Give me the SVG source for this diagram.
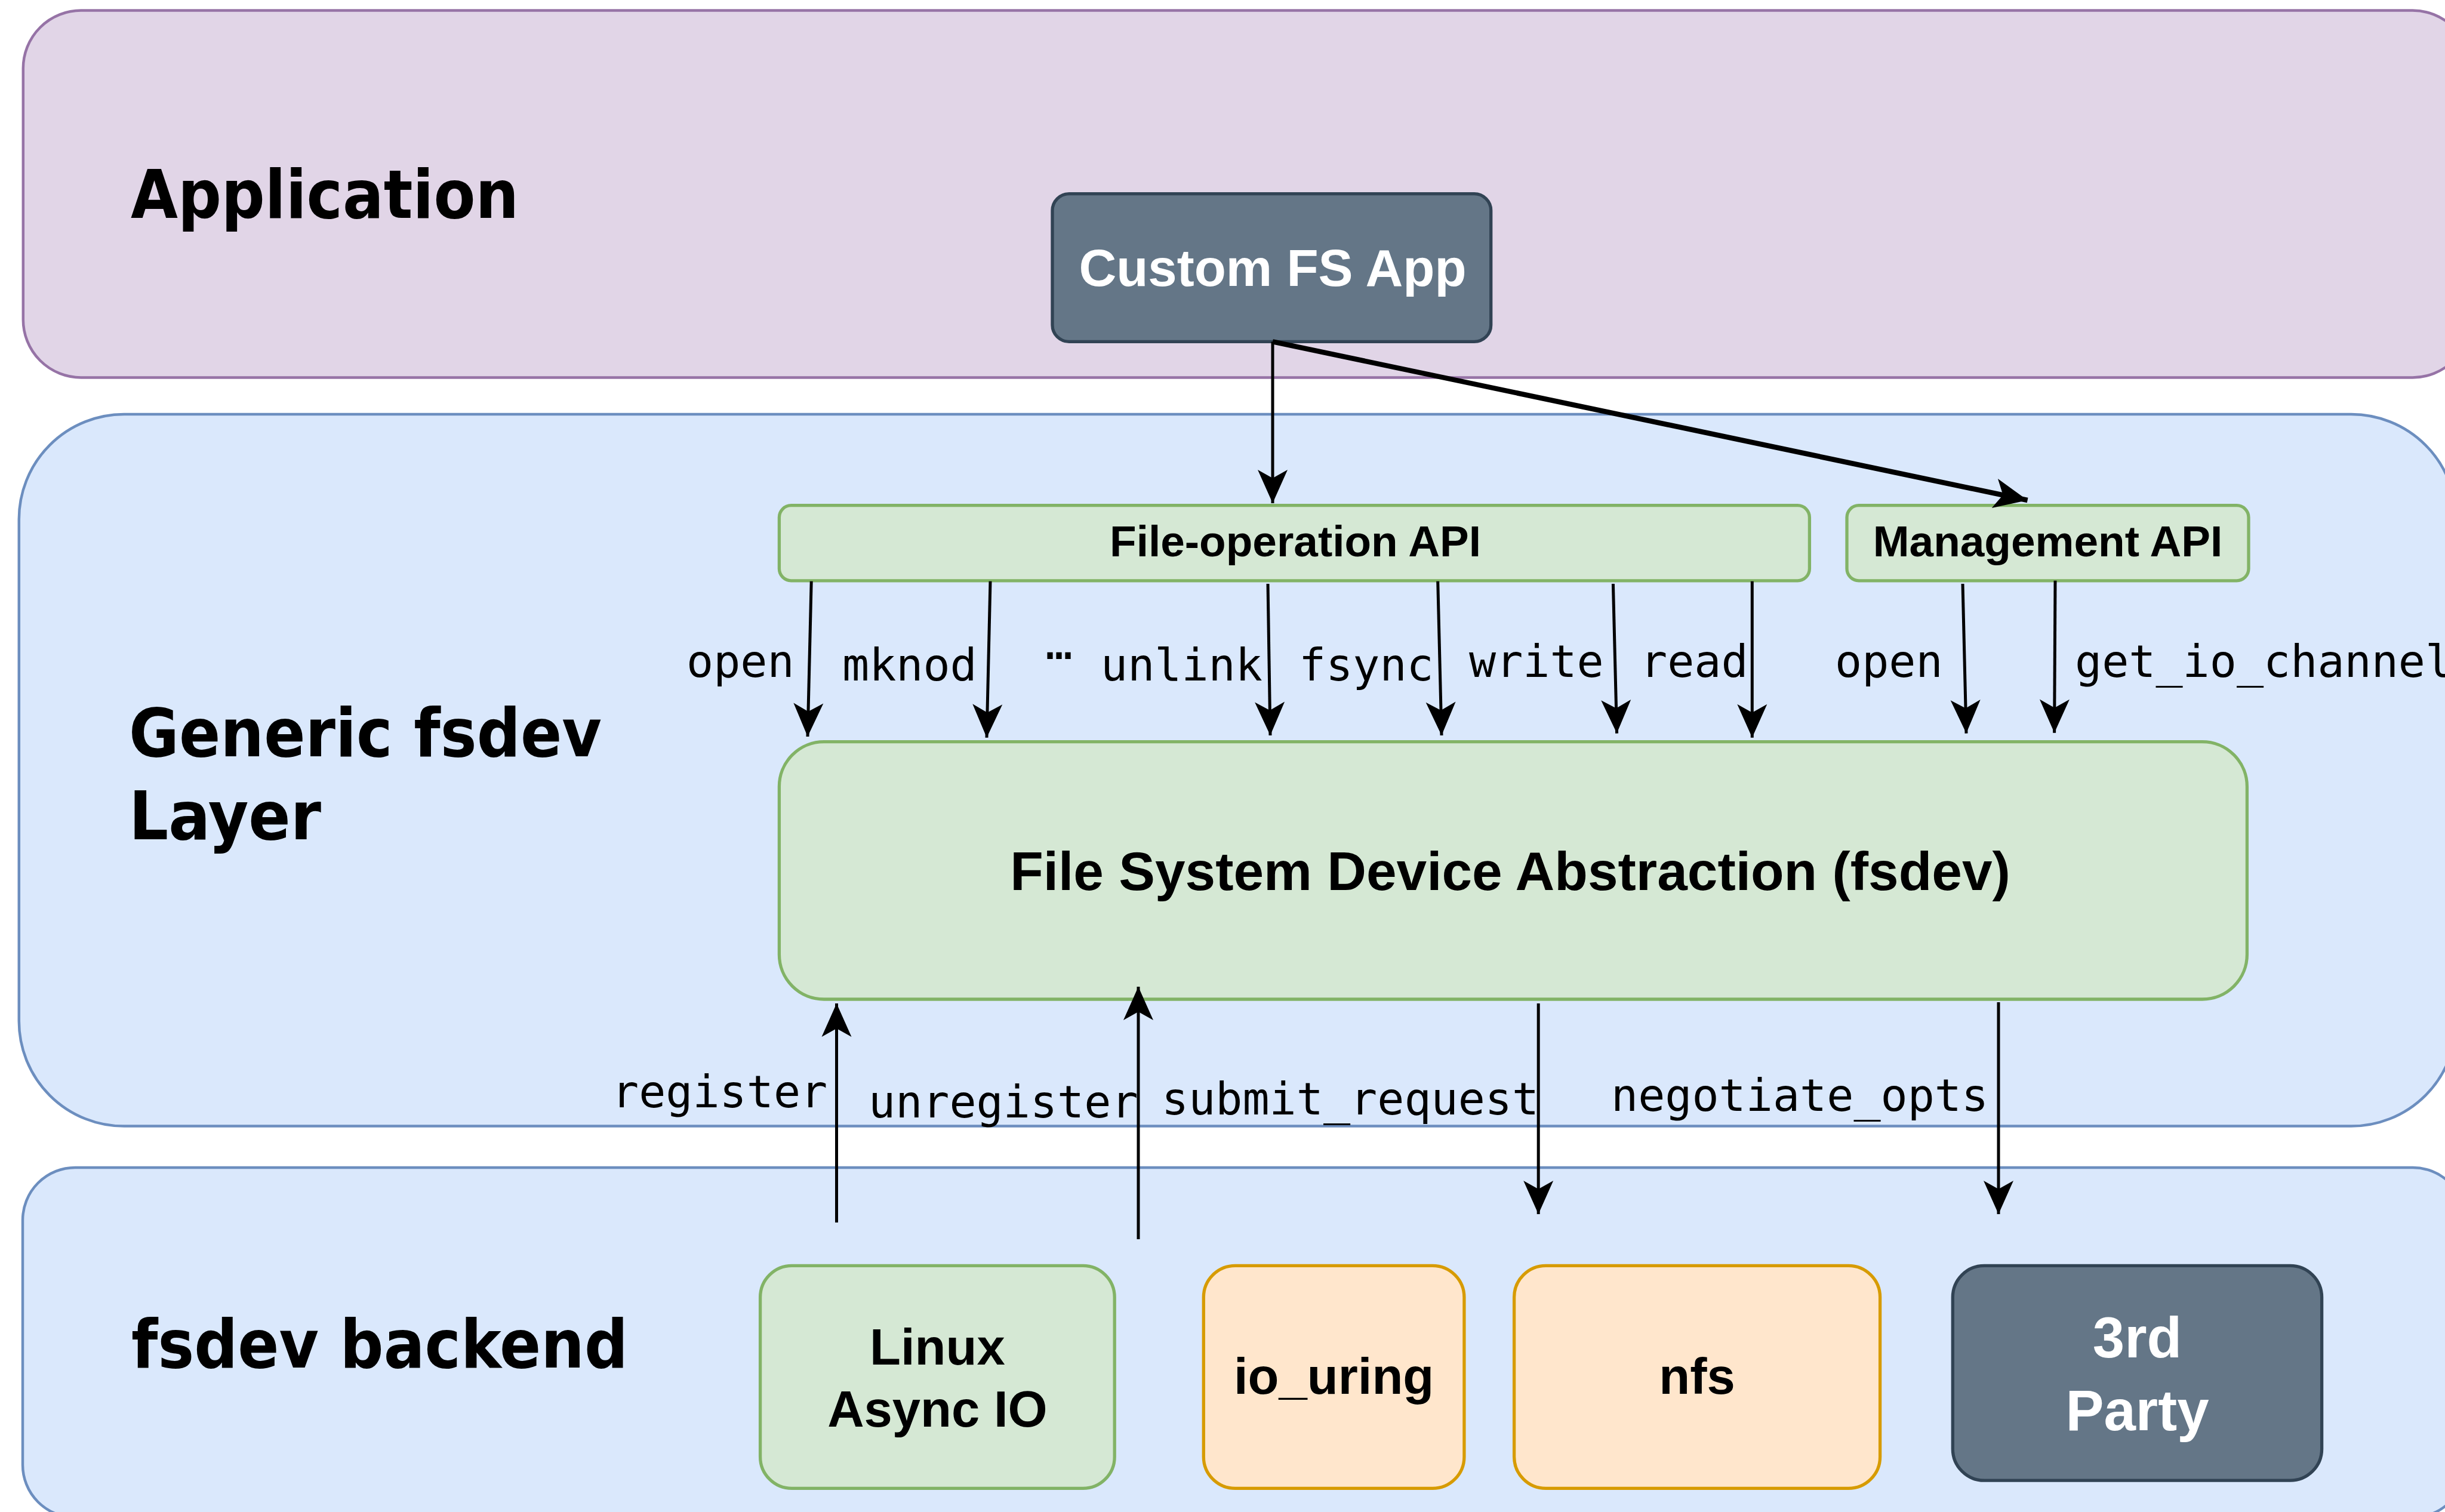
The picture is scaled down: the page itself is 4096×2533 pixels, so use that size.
<svg xmlns="http://www.w3.org/2000/svg" width="4096" height="2533" viewBox="0 0 4096 2533">
  <defs>
    <style>
      .lane-app { fill: #e1d5e7; stroke: #9673a6; stroke-width: 4.5; }
      .lane-blue { fill: #dae8fc; stroke: #6c8ebf; stroke-width: 4.5; }
      .green { fill: #d5e8d4; stroke: #82b366; stroke-width: 5.3; }
      .orange { fill: #ffe6cc; stroke: #d79b00; stroke-width: 5.3; }
      .dark { fill: #647687; stroke: #314354; stroke-width: 5.3; }
      .lane-title { font-family: "DejaVu Sans Condensed", "DejaVu Sans", sans-serif; font-stretch: condensed; font-weight: bold; font-size: 113px; fill: #000; }
      .node-text { font-family: "Liberation Sans", Arial, sans-serif; font-weight: bold; text-anchor: middle; fill: #000; }
      .white { fill: #ffffff; }
      .op { font-family: "DejaVu Sans Mono", "Liberation Mono", monospace; font-size: 75px; fill: #000; }
      .edge { fill: none; stroke: #000; stroke-width: 5; }
      .edge-thick { fill: none; stroke: #000; stroke-width: 8.5; }
    </style>
    <marker id="arrow" markerUnits="userSpaceOnUse" orient="auto" refX="0" refY="0" markerWidth="64" markerHeight="64" overflow="visible">
      <path d="M-56,-25 L0,0 L-56,25 L-42,0 Z" fill="#000"/>
    </marker>
  </defs>

  <!-- layer bands -->
  <g id="lane-application">
    <rect class="lane-app" x="38.8" y="17.6" width="4100" height="614.8" rx="97" ry="97"/>
    <text class="lane-title" x="219" y="365" textLength="650" lengthAdjust="spacingAndGlyphs">Application</text>
  </g>
  <g id="lane-generic">
    <rect class="lane-blue" x="31.8" y="694" width="4083" height="1192.6" rx="176" ry="176"/>
    <text class="lane-title" x="216" y="1267" textLength="792" lengthAdjust="spacingAndGlyphs">Generic fsdev</text>
    <text class="lane-title" x="216" y="1406" textLength="322" lengthAdjust="spacingAndGlyphs">Layer</text>
  </g>
  <g id="lane-backend">
    <rect class="lane-blue" x="38" y="1956" width="4092" height="586" rx="88" ry="88"/>
    <text class="lane-title" x="220" y="2291" textLength="832" lengthAdjust="spacingAndGlyphs">fsdev backend</text>
  </g>

  <!-- nodes -->
  <g id="custom-fs-app">
    <rect class="dark" x="1763" y="324.6" width="734.7" height="247.8" rx="28" ry="28"/>
    <text class="node-text white" x="2132" y="479" font-size="87">Custom FS App</text>
  </g>
  <g id="file-operation-api">
    <rect class="green" x="1305.4" y="846.7" width="1726" height="126.1" rx="20" ry="20"/>
    <text class="node-text" x="2170" y="932" font-size="73">File-operation API</text>
  </g>
  <g id="management-api">
    <rect class="green" x="3094" y="846.7" width="673" height="126.1" rx="20" ry="20"/>
    <text class="node-text" x="3430.5" y="932" font-size="73">Management API</text>
  </g>
  <g id="fsdev-core">
    <rect class="green" x="1305.4" y="1242.7" width="2459" height="431.3" rx="75" ry="75"/>
    <text class="node-text" x="2530" y="1491" font-size="91">File System Device Abstraction (fsdev)</text>
  </g>
  <g id="backend-aio">
    <rect class="green" x="1273.6" y="2120.3" width="593.6" height="373.1" rx="53" ry="53"/>
    <text class="node-text" x="1570.4" y="2286" font-size="85">Linux</text>
    <text class="node-text" x="1570.4" y="2390" font-size="85">Async IO</text>
  </g>
  <g id="backend-io-uring">
    <rect class="orange" x="2016.3" y="2120.3" width="436.6" height="373.1" rx="53" ry="53"/>
    <text class="node-text" x="2234.6" y="2335" font-size="85">io_uring</text>
  </g>
  <g id="backend-nfs">
    <rect class="orange" x="2536.6" y="2120.3" width="613" height="373.1" rx="53" ry="53"/>
    <text class="node-text" x="2843.1" y="2335" font-size="85">nfs</text>
  </g>
  <g id="backend-3rd-party">
    <rect class="dark" x="3271.3" y="2120.3" width="618.3" height="359.9" rx="53" ry="53"/>
    <text class="node-text white" x="3580.5" y="2274" font-size="96">3rd</text>
    <text class="node-text white" x="3580.5" y="2396" font-size="96">Party</text>
  </g>

  <!-- connectors -->
  <g id="connectors">
    <line class="edge" x1="2132" y1="572.4" x2="2132" y2="843" marker-end="url(#arrow)"/>
    <line class="edge-thick" x1="2132" y1="572.4" x2="3396.6" y2="838" marker-end="url(#arrow)"/>

    <line class="edge" x1="1359.2" y1="973.7" x2="1353" y2="1234" marker-end="url(#arrow)"/>
    <line class="edge" x1="1659" y1="973.7" x2="1653" y2="1235.7" marker-end="url(#arrow)"/>
    <line class="edge" x1="2124" y1="978" x2="2128" y2="1232" marker-end="url(#arrow)"/>
    <line class="edge" x1="2408.7" y1="973.7" x2="2415" y2="1232" marker-end="url(#arrow)"/>
    <line class="edge" x1="2702.4" y1="978" x2="2708.6" y2="1228.6" marker-end="url(#arrow)"/>
    <line class="edge" x1="2935.3" y1="973.7" x2="2935.3" y2="1235.7" marker-end="url(#arrow)"/>
    <line class="edge" x1="3288" y1="978" x2="3294" y2="1228.6" marker-end="url(#arrow)"/>
    <line class="edge" x1="3443" y1="972.8" x2="3441.6" y2="1227.7" marker-end="url(#arrow)"/>

    <line class="edge" x1="1401.5" y1="2048" x2="1401.5" y2="1681" marker-end="url(#arrow)"/>
    <line class="edge" x1="1907" y1="2076" x2="1907" y2="1653" marker-end="url(#arrow)"/>
    <line class="edge" x1="2577.2" y1="1681" x2="2577.2" y2="2034" marker-end="url(#arrow)"/>
    <line class="edge" x1="3348" y1="1679" x2="3348" y2="2034" marker-end="url(#arrow)"/>

    <!-- operation labels -->
    <text class="op" x="1150" y="1134">open</text>
    <text class="op" x="1411" y="1140">mknod</text>
    <text class="op" x="1774" y="1104" text-anchor="middle">…</text>
    <text class="op" x="1844" y="1140">unlink</text>
    <text class="op" x="2176" y="1140">fsync</text>
    <text class="op" x="2461" y="1134">write</text>
    <text class="op" x="2748" y="1134">read</text>
    <text class="op" x="3074" y="1134">open</text>
    <text class="op" x="3476" y="1134">get_io_channel</text>

    <text class="op" x="1025" y="1855">register</text>
    <text class="op" x="1455" y="1872">unregister</text>
    <text class="op" x="1946" y="1867">submit_request</text>
    <text class="op" x="2699" y="1861">negotiate_opts</text>
  </g>
</svg>
